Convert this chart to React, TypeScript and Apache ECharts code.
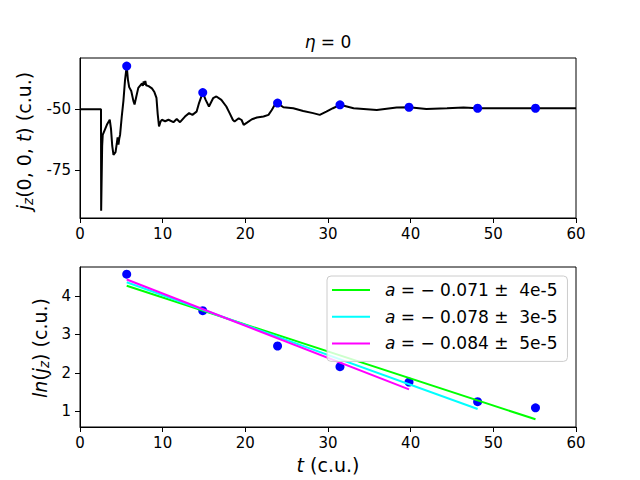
import React, { useEffect, useRef } from "react";
import * as echarts from "echarts";

// time trace of j_z(0,0,t)
const jzT = [0, 2.54, 2.56, 2.62, 2.68, 2.75, 3.0, 3.3, 3.6, 3.75, 3.9, 4.05, 4.3, 4.45, 4.55, 4.65, 4.75, 4.85, 5.05, 5.25, 5.45, 5.65, 5.8, 5.95, 6.2, 6.45, 6.6, 6.8, 7.05, 7.3, 7.5, 7.6, 7.7, 7.8, 7.9, 8.0, 8.3, 8.7, 9.0, 9.25, 9.4, 9.56, 9.75, 9.9, 10.3, 10.7, 11.3, 11.7, 12.1, 12.7, 13.2, 13.6, 14.1, 14.4, 14.85, 15.2, 15.6, 16.1, 16.5, 17.1, 17.7, 18.1, 18.5, 18.7, 19.2, 19.55, 19.8, 20.2, 20.8, 21.4, 22.2, 22.8, 23.2, 23.6, 23.9, 24.6, 25.8, 27, 28.2, 29.0, 29.8, 30.6, 31.45, 33.1, 35.9, 38.3, 39.8, 41.9, 44.4, 46.4, 48.1, 51.2, 55.1, 60];
const jzV = [-50, -50, -91.4, -91.4, -65, -60.5, -58.4, -56, -54.3, -58, -65, -68.6, -67.5, -64, -61.5, -64.5, -62, -60.4, -53, -46.7, -38, -32.4, -38, -41, -42.6, -46.5, -48.1, -45, -41.3, -40.3, -39.5, -40.5, -38.7, -40, -38.5, -40.2, -40.6, -41.5, -43, -45.4, -52, -57, -55, -54.3, -54.9, -54.3, -55.3, -54, -55.3, -53, -51.6, -52.3, -51, -47.5, -43.2, -46.2, -48.9, -45.5, -44.8, -46.2, -48.9, -51.6, -54.4, -55, -53.7, -54.4, -56.4, -55.5, -54.1, -53.4, -53, -52.3, -50.3, -48, -47.5, -49.2, -49.6, -50.7, -51.6, -52.3, -51, -49.6, -48.2, -49.6, -50.3, -49.3, -49.2, -49.9, -49.6, -49.3, -49.6, -49.6, -49.6, -49.6];

// peaks
const peakT = [5.65, 14.85, 23.9, 31.45, 39.8, 48.1, 55.1];
const peakJz = [-32.4, -43.2, -47.5, -48.2, -49.2, -49.6, -49.6];
const lnJz = [4.57, 3.62, 2.7, 2.16, 1.76, 1.25, 1.09];

// fits
const fitNames = ["a = − 0.071 ±  4e-5", "a = − 0.078 ±  3e-5", "a = − 0.084 ±  5e-5"];
const fitColors = ["#00ff00", "#00ffff", "#ff00ff"];
const fitT = [[5.65, 55.1], [5.65, 48.1], [5.65, 39.8]];
const fitV = [[4.27, 0.79], [4.36, 1.06], [4.43, 1.57]];

// ticks
const topYTicks = [-75, -50];
const botYTicks = [1, 2, 3, 4];

const FONT = "DejaVu Sans";

export default function App() {
  const ref = useRef<HTMLDivElement>(null);
  useEffect(() => {
    if (!ref.current) return;
    const chart = echarts.init(ref.current, null, { renderer: "svg" });
    const axisCommon = {
      axisLine: { show: true, lineStyle: { color: "#000", width: 1 } },
      axisTick: { show: true, inside: false, length: 5, lineStyle: { color: "#000", width: 1 } },
      splitLine: { show: false },
    };
    const xAxis = (gi: number) => ({
      type: "value",
      gridIndex: gi,
      min: 0,
      max: 60,
      interval: 10,
      ...axisCommon,
      axisLabel: { color: "#000", fontSize: 15, fontFamily: FONT, margin: 8 },
    });
    const LH = 20.5;
    const lineRich = {
      i: { fontStyle: "italic", fontSize: 19, fontFamily: FONT, color: "#000", lineHeight: LH, verticalAlign: "top" },
      n: { fontSize: 19, fontFamily: FONT, color: "#000", lineHeight: LH, verticalAlign: "top" },
      s: { fontStyle: "italic", fontSize: 13.5, fontFamily: FONT, color: "#000", lineHeight: LH, verticalAlign: "bottom" },
    };
    const option: any = {
      animation: false,
      grid: [
        { left: 80, top: 58, width: 496, height: 160, show: true, borderColor: "#000", borderWidth: 1, containLabel: false },
        { left: 80, top: 267, width: 496, height: 160, show: true, borderColor: "#000", borderWidth: 1, containLabel: false },
      ],
      xAxis: [xAxis(0), xAxis(1)],
      yAxis: [
        {
          type: "value",
          gridIndex: 0,
          min: -94.4,
          max: -29.1,
          ...axisCommon,
          axisTick: { ...axisCommon.axisTick, customValues: topYTicks },
          axisLabel: { color: "#000", fontSize: 15, fontFamily: FONT, margin: 9, customValues: topYTicks, formatter: (v: number) => String(v) },
        },
        {
          type: "value",
          gridIndex: 1,
          min: 0.59,
          max: 4.757,
          ...axisCommon,
          axisTick: { ...axisCommon.axisTick, customValues: botYTicks },
          axisLabel: { color: "#000", fontSize: 15, fontFamily: FONT, margin: 9, customValues: botYTicks },
        },
      ],
      legend: {
        show: true,
        orient: "vertical",
        left: 327,
        top: 276,
        padding: [4, 10, 8, 5],
        itemWidth: 38,
        itemHeight: 2,
        itemGap: 6.7,
        icon: "rect",
        borderColor: "#cccccc",
        borderWidth: 1,
        borderRadius: 4,
        backgroundColor: "rgba(255,255,255,0.8)",
        data: fitNames,
        formatter: (name: string) => name.replace(/^a/, "{i|a}"),
        textStyle: {
          color: "#000",
          fontSize: 17,
          fontFamily: FONT,
          lineHeight: 20,
          rich: {
            i: { fontStyle: "italic", fontSize: 17, fontFamily: FONT, color: "#000", padding: [0, 0, 0, 10] },
          },
        },
      },
      graphic: [
        {
          type: "text",
          x: 328,
          y: 42,
          style: {
            text: "{i|η}{n| = 0}",
            fill: "#000",
            textAlign: "center",
            textVerticalAlign: "middle",
            rich: {
              i: { fontStyle: "italic", fontSize: 17, fontFamily: FONT, color: "#000" },
              n: { fontSize: 17, fontFamily: FONT, color: "#000" },
            },
          },
        },
        {
          type: "text",
          x: 328,
          y: 465,
          style: {
            text: "{i|t}{n| (c.u.)}",
            fill: "#000",
            textAlign: "center",
            textVerticalAlign: "middle",
            rich: {
              i: { fontStyle: "italic", fontSize: 19, fontFamily: FONT, color: "#000" },
              n: { fontSize: 19, fontFamily: FONT, color: "#000" },
            },
          },
        },
        {
          type: "text",
          x: 25,
          y: 141,
          rotation: Math.PI / 2,
          style: {
            text: "{i|j}{s|z}{n|(0, 0, }{i|t}{n|) (c.u.)}",
            fill: "#000",
            textAlign: "center",
            textVerticalAlign: "middle",
            rich: lineRich,
          },
        },
        {
          type: "text",
          x: 41,
          y: 348,
          rotation: Math.PI / 2,
          style: {
            text: "{i|ln}{n|(}{i|j}{s|z}{n|) (c.u.)}",
            fill: "#000",
            textAlign: "center",
            textVerticalAlign: "middle",
            rich: lineRich,
          },
        },
      ],
      series: [
        {
          type: "line",
          xAxisIndex: 0,
          yAxisIndex: 0,
          data: jzT.map((t, i) => [t, jzV[i]]),
          showSymbol: false,
          symbol: "none",
          smooth: false,
          lineStyle: { color: "#000", width: 2 },
          z: 2,
        },
        {
          type: "scatter",
          xAxisIndex: 0,
          yAxisIndex: 0,
          data: peakT.map((t, i) => [t, peakJz[i]]),
          symbolSize: 9,
          itemStyle: { color: "#0000ff", opacity: 1 },
          z: 3,
        },
        {
          type: "scatter",
          xAxisIndex: 1,
          yAxisIndex: 1,
          data: peakT.map((t, i) => [t, lnJz[i]]),
          symbolSize: 9,
          itemStyle: { color: "#0000ff", opacity: 1 },
          z: 2,
        },
        ...fitNames.map((name, k) => ({
          type: "line",
          name,
          xAxisIndex: 1,
          yAxisIndex: 1,
          data: fitT[k].map((t, i) => [t, fitV[k][i]]),
          showSymbol: false,
          symbol: "none",
          color: fitColors[k],
          itemStyle: { color: fitColors[k] },
          lineStyle: { color: fitColors[k], width: 2 },
          z: 3,
        })),
      ],
    };
    chart.setOption(option);
    return () => chart.dispose();
  }, []);
  return <div ref={ref} style={{ position: "absolute", left: 0, top: 0, width: 640, height: 480 }} />;
}
